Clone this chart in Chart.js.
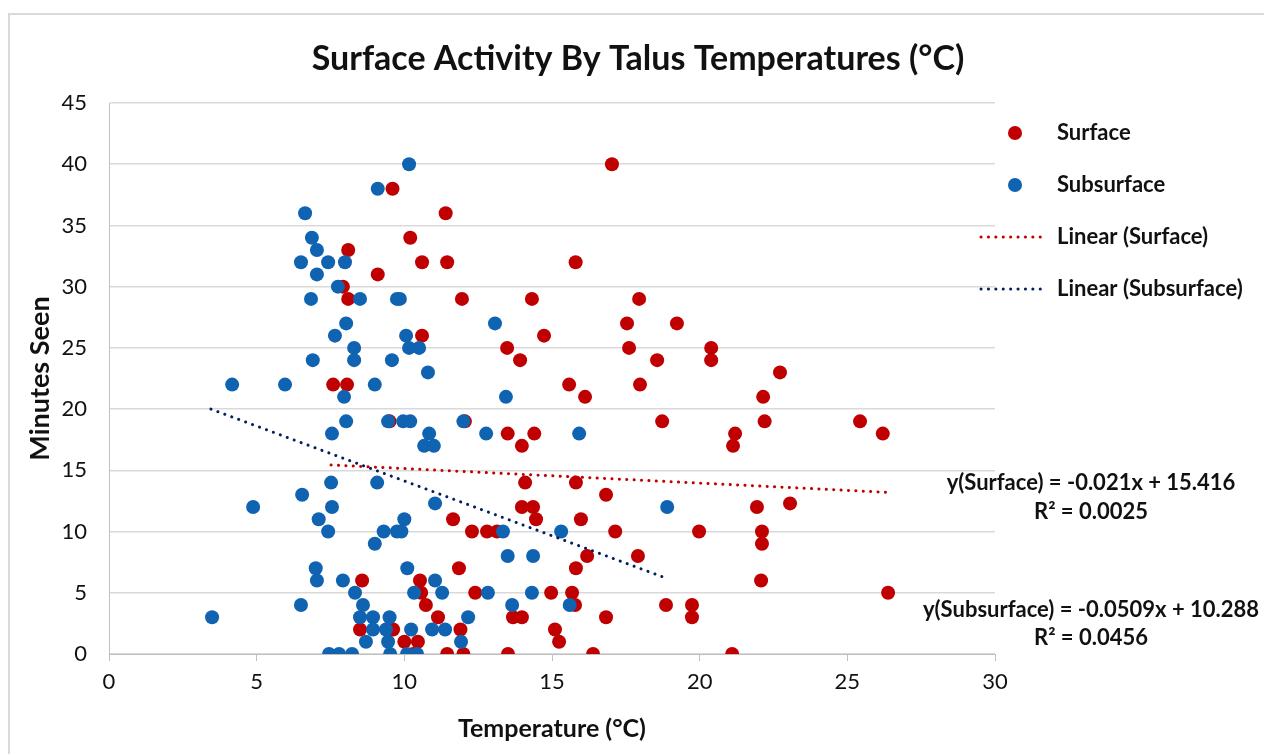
<!DOCTYPE html>
<html>
<head>
<meta charset="utf-8">
<script src="https://cdn.jsdelivr.net/npm/chart.js@4.4.1/dist/chart.umd.min.js"></script>
<style>
  html,body{margin:0;background:#fff;}
  #wrap{width:1264px;height:754px;position:relative;}
</style>
</head>
<body>
<div id="wrap"><canvas id="chart"></canvas></div>
<script>
  // Surface points (temperature °C, minutes seen)
  const surfaceTemp = [17.03,9.6,11.4,10.2,8.1,10.6,11.45,15.8,9.1,7.92,8.1,11.95,14.32,17.95,17.54,19.23,10.6,14.73,13.48,17.61,
    20.39,13.92,18.56,20.39,22.72,7.59,8.06,15.58,17.98,16.12,22.15,9.5,12.05,18.73,22.2,25.43,13.5,14.4,21.2,26.2,
    13.98,21.13,14.09,15.81,16.83,13.98,14.36,21.94,23.06,11.65,14.46,15.98,12.29,12.8,13.14,17.14,19.98,22.11,22.11,16.19,
    17.91,11.85,15.81,8.57,10.53,22.08,10.57,12.4,14.97,15.68,26.38,10.73,15.78,18.86,19.74,11.14,13.68,13.98,16.83,19.74,
    8.5,9.62,11.9,15.1,10.0,10.46,15.24,10.3,11.45,12.0,13.51,16.39,21.1];
  const surfaceMin = [40,38,36,34,33,32,32,32,31,30,29,29,29,29,27,27,26,26,25,25,
    25,24,24,24,23,22,22,22,22,21,21,19,19,19,19,19,18,18,18,18,
    17,17,14,14,13,12,12,12,12.3,11,11,11,10,10,10,10,10,10,9,8,
    8,7,7,6,6,6,5,5,5,5,5,4,4,4,4,3,3,3,3,3,
    2,2,2,2,1,1,1,0,0,0,0,0,0];

  // Subsurface points
  const subTemp = [10.16,9.1,6.64,6.87,7.04,6.5,7.42,7.99,7.04,7.75,6.84,8.5,9.75,9.85,8.03,13.07,7.65,10.06,8.3,10.16,
    10.5,6.9,8.3,9.58,10.8,4.17,5.96,9.0,7.96,13.44,8.03,9.45,9.96,10.2,12.0,7.55,10.84,12.77,15.92,10.67,
    11.0,7.52,9.08,6.54,4.88,7.55,11.04,18.9,7.1,10.0,7.42,9.3,9.75,9.9,13.34,15.31,9.0,13.5,14.36,7.0,
    10.1,7.04,7.92,11.04,8.33,10.33,11.28,12.83,14.32,6.5,8.6,13.65,15.6,3.49,8.5,8.94,9.5,12.16,8.94,9.38,
    10.23,10.94,11.38,8.7,9.45,11.92,7.45,7.79,8.23,9.52,10.09,10.43];
  const subMin = [40,38,36,34,33,32,32,32,31,30,29,29,29,29,27,27,26,26,25,25,
    25,24,24,24,23,22,22,22,21,21,19,19,19,19,19,18,18,18,18,17,
    17,14,14,13,12,12,12.3,12,11,11,10,10,10,10,10,10,9,8,8,7,
    7,6,6,6,5,5,5,5,5,4,4,4,4,3,3,3,3,3,2,2,
    2,2,2,1,1,1,0,0,0,0,0,0];

  // trendline endpoints as drawn
  const surfaceTrendX = [7.52, 26.38];
  const surfaceTrendY = [15.44, 13.2];
  const subTrendX = [3.45, 18.86];
  const subTrendY = [20.0, 6.2];

  const xTicks = [0,5,10,15,20,25,30];
  const yTicks = [0,5,10,15,20,25,30,35,40,45];

  const RED = '#C00000', BLUE = '#0F63B1', NAVY = '#002060';
  const FONT = 'Lato, "Open Sans", sans-serif';

  const pts = (xs, ys) => xs.map((x,i)=>({x:x, y:ys[i]}));

  // title, legend, equations drawn by hand
  const extras = {
    id:'extras',
    afterDraw(chart){
      const c = chart.ctx;
      c.save();
      c.strokeStyle = '#D9D9D9'; c.lineWidth = 2;
      c.strokeRect(9, 14, 1300, 800);
      c.fillStyle = '#111';
      c.textAlign = 'center'; c.textBaseline = 'middle';
      c.font = 'bold 34px ' + FONT;
      c.fillText('Surface Activity By Talus Temperatures (°C)', 638, 59);

      c.font = 'bold 22px ' + FONT;
      c.textAlign = 'left';
      c.fillStyle = RED; c.beginPath(); c.arc(1015,133,7,0,Math.PI*2); c.fill();
      c.fillStyle = BLUE; c.beginPath(); c.arc(1015,185,7,0,Math.PI*2); c.fill();
      [[237,RED],[289,NAVY]].forEach(([y,col])=>{
        c.strokeStyle = col; c.lineWidth = 3; c.lineCap = 'round'; c.setLineDash([0.1,7.3]);
        c.beginPath(); c.moveTo(981,y); c.lineTo(1045,y); c.stroke();
      });
      c.setLineDash([]);
      c.fillStyle = '#111';
      c.fillText('Surface', 1057, 133);
      c.fillText('Subsurface', 1057, 185);
      c.fillText('Linear (Surface)', 1057, 237);
      c.fillText('Linear (Subsurface)', 1057, 289);

      c.textAlign = 'center';
      c.fillText('y(Surface) = -0.021x + 15.416', 1091, 483);
      c.fillText('R² = 0.0025', 1091, 512);
      c.fillText('y(Subsurface) = -0.0509x + 10.288', 1091, 610);
      c.fillText('R² = 0.0456', 1091, 638);
      c.restore();
    }
  };

  function start(){
    const ctx = document.getElementById('chart');
    new Chart(ctx, {
      type:'scatter',
      data:{ datasets:[
        { label:'Linear (Surface)', data:pts(surfaceTrendX, surfaceTrendY), showLine:true, pointRadius:0,
          borderColor:RED, borderWidth:3, borderDash:[0.1,7.3], borderCapStyle:'round' },
        { label:'Linear (Subsurface)', data:pts(subTrendX, subTrendY), showLine:true, pointRadius:0,
          borderColor:NAVY, borderWidth:3, borderDash:[0.1,7.3], borderCapStyle:'round' },
        { label:'Subsurface', data:pts(subTemp, subMin), pointRadius:7, pointBackgroundColor:BLUE, pointBorderWidth:0, borderColor:BLUE },
        { label:'Surface', data:pts(surfaceTemp, surfaceMin), pointRadius:7, pointBackgroundColor:RED, pointBorderWidth:0, borderColor:RED }
      ]},
      options:{
        responsive:true, maintainAspectRatio:false, animation:false,
        layout:{ padding:{ top:103, right:269, bottom:0, left:0 } },
        plugins:{ legend:{display:false}, tooltip:{enabled:false}, title:{display:false} },
        scales:{
          x:{ type:'linear', min:0, max:30,
            afterBuildTicks:s=>{ s.ticks = xTicks.map(v=>({value:v})); },
            afterFit:s=>{ s.height = 100; },
            grid:{ drawOnChartArea:false, drawTicks:true, tickLength:7, tickColor:'#BFBFBF' },
            border:{ display:true, color:'#BFBFBF', width:1 },
            ticks:{ color:'#111', font:{family:FONT, size:22}, padding:8 },
            title:{ display:true, text:'Temperature (°C)', color:'#111', font:{family:FONT, size:25, weight:'bold'}, padding:{top:0,bottom:10} }
          },
          y:{ type:'linear', min:0, max:45,
            afterBuildTicks:s=>{ s.ticks = yTicks.map(v=>({value:v})); },
            afterFit:s=>{ s.width = 109; },
            grid:{ color:'#D9D9D9', lineWidth:1.5, drawTicks:false },
            border:{ display:true, color:'#BFBFBF', width:1 },
            ticks:{ color:'#111', font:{family:FONT, size:22}, padding:22 },
            title:{ display:true, text:'Minutes Seen', color:'#111', font:{family:FONT, size:27, weight:'bold'}, padding:{top:24,bottom:0} }
          }
        }
      },
      plugins:[extras]
    });
  }
  document.addEventListener('DOMContentLoaded', start);
</script>
</body>
</html>
